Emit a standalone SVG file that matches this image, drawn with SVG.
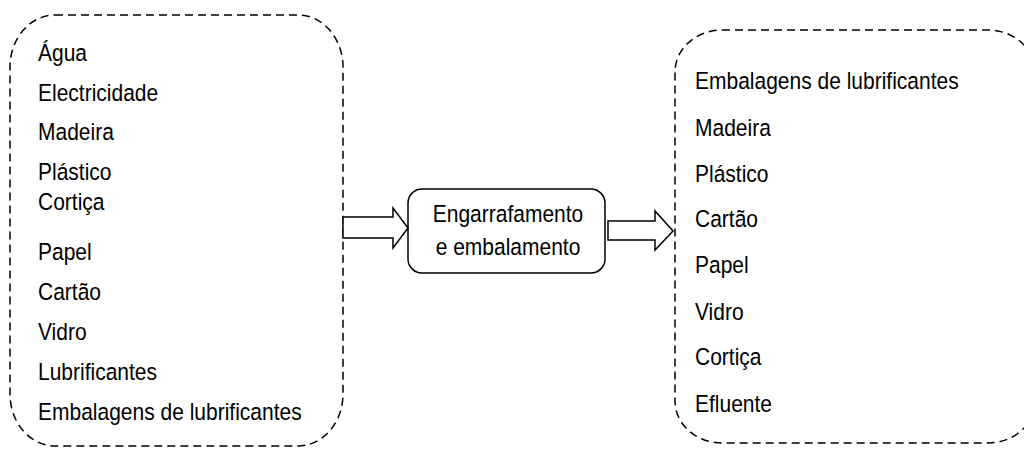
<svg xmlns="http://www.w3.org/2000/svg" width="1024" height="450" viewBox="0 0 1024 450">
<style>
.dash{fill:none;stroke:#000;stroke-width:1.5;stroke-dasharray:8 5}
.box{fill:#fff;stroke:#000;stroke-width:1.5}
.arr{fill:#fff;stroke:#000;stroke-width:1.5;stroke-linejoin:miter}
text{font-family:"Liberation Sans",Arial,sans-serif;font-size:21px;fill:#000}
.c{text-anchor:middle}
</style>
<rect width="1024" height="450" fill="#fff"/>
<g id="inputs">
<rect class="dash" x="10" y="15" width="333" height="431" rx="45" ry="52"/>
<text transform="translate(38,61) scale(1,1.18)">Água</text>
<text transform="translate(38,101) scale(1,1.18)">Electricidade</text>
<text transform="translate(38,140) scale(1,1.18)">Madeira</text>
<text transform="translate(38,180) scale(1,1.18)">Plástico</text>
<text transform="translate(38,210) scale(1,1.18)">Cortiça</text>
<text transform="translate(38,260) scale(1,1.18)">Papel</text>
<text transform="translate(38,300) scale(1,1.18)">Cartão</text>
<text transform="translate(38,340) scale(1,1.18)">Vidro</text>
<text transform="translate(38,380) scale(1,1.18)">Lubrificantes</text>
<text transform="translate(38,420) scale(1,1.18)">Embalagens de lubrificantes</text>
</g>
<g id="process">
<rect class="box" x="408" y="189" width="197" height="84" rx="14" ry="14"/>
<text class="c" transform="translate(508,222) scale(1,1.18)">Engarrafamento</text>
<text class="c" transform="translate(508,255) scale(1,1.18)">e embalamento</text>
</g>
<g id="outputs">
<rect class="dash" x="675" y="30" width="360" height="413" rx="47" ry="42"/>
<text transform="translate(695,89) scale(1,1.18)">Embalagens de lubrificantes</text>
<text transform="translate(695,136) scale(1,1.18)">Madeira</text>
<text transform="translate(695,182) scale(1,1.18)">Plástico</text>
<text transform="translate(695,227) scale(1,1.18)">Cartão</text>
<text transform="translate(695,273) scale(1,1.18)">Papel</text>
<text transform="translate(695,320) scale(1,1.18)">Vidro</text>
<text transform="translate(695,365) scale(1,1.18)">Cortiça</text>
<text transform="translate(695,412) scale(1,1.18)">Efluente</text>
</g>
<g id="connectors">
<polygon class="arr" points="343,217 393,217 393,208 408,228 393,248 393,238 343,238"/>
<polygon class="arr" points="608,221 655,221 655,211 673,231 655,250 655,240 608,240"/>
</g>
</svg>
